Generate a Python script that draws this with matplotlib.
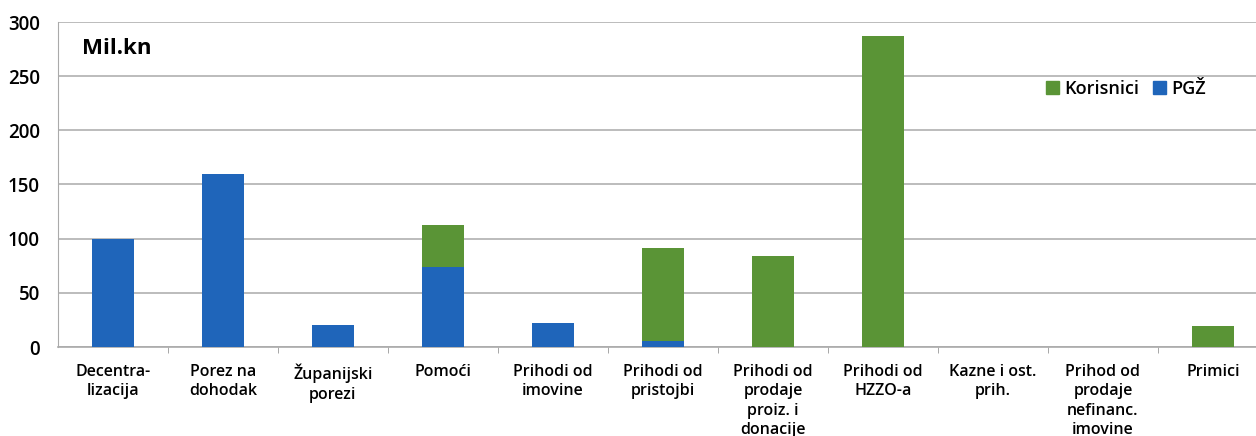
import numpy as np
import matplotlib
matplotlib.use("Agg")
import matplotlib.pyplot as plt
from matplotlib.patches import Patch

plt.rcParams['font.family'] = ['Open Sans', 'DejaVu Sans']

# data (Mil.kn)
categories = ["Decentra-\nlizacija", "Porez na\ndohodak", "Županijski\nporezi", "Pomoći",
              "Prihodi od\nimovine", "Prihodi od\npristojbi", "Prihodi od\nprodaje\nproiz. i\ndonacije",
              "Prihodi od\nHZZO-a", "Kazne i ost.\nprih.", "Prihod od\nprodaje\nnefinanc.\nimovine",
              "Primici"]
pgz = [100, 160, 20, 74, 22, 6, 0, 0, 0, 0, 0]
korisnici = [0, 0, 0, 39, 0, 85, 84, 287, 0, 0, 19]
yticks = [0, 50, 100, 150, 200, 250, 300]

blue = "#1F65BA"
green = "#5A9436"

fig = plt.figure(figsize=(12.56, 4.36), dpi=100)
ax = fig.add_axes([58/1256, 89/436, 1210/1256, 325/436])

x = np.arange(len(categories))
ax.bar(x, pgz, width=0.39, color=blue, zorder=3)
ax.bar(x, korisnici, width=0.39, bottom=pgz, color=green, zorder=3)

ax.set_xlim(-0.5, 10.5)
ax.set_ylim(0, 300)
ax.set_yticks(yticks)
ax.set_yticklabels([str(v) for v in yticks], fontsize=13.5, fontweight='semibold')
ax.tick_params(axis='y', length=0, pad=13)
ax.set_xticks(x)
ax.set_xticklabels(categories, fontsize=11.5, fontweight='semibold', linespacing=1.3)
ax.tick_params(axis='x', which='major', length=0, pad=12)
ax.set_xticks(x[:-1] + 0.5, minor=True)
ax.tick_params(axis='x', which='minor', length=4, color='#999999', direction='out')

ax.grid(axis='y', color='#b0b0b0', linewidth=1.2, zorder=0)
for s in ['top', 'right']:
    ax.spines[s].set_visible(False)
ax.spines['left'].set_color('#aaaaaa')
ax.spines['bottom'].set_color('#aaaaaa')
ax.spines['bottom'].set_linewidth(1.2)

ax.text(0.02, 0.92, "Mil.kn", transform=ax.transAxes, fontsize=16, fontweight='bold', va='center')

handles = [Patch(color=green, label='Korisnici'), Patch(color=blue, label='PGŽ')]
ax.legend(handles=handles, loc='center left', bbox_to_anchor=(0.803, 0.795), ncol=2, frameon=False,
          handlelength=0.7, handleheight=0.7, handletextpad=0.3, columnspacing=0.8,
          prop={'weight': 'semibold', 'size': 13})

fig.savefig("out.png", dpi=100)
